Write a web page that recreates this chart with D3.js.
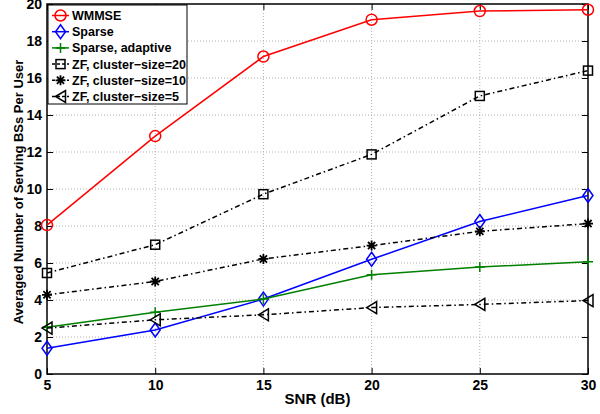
<!DOCTYPE html>
<html><head><meta charset="utf-8">
<script src="https://cdn.jsdelivr.net/npm/d3@7"></script>
<style>body{margin:0;background:#fff;} svg{display:block;font-family:"Liberation Sans",Arial,Helvetica,sans-serif;font-weight:bold;}</style>
</head><body><svg id="c" width="600" height="414"></svg>
<script>
const snr = [5, 10, 15, 20, 25, 30];
const xTicks = [5, 10, 15, 20, 25, 30];
const yTicks = [0, 2, 4, 6, 8, 10, 12, 14, 16, 18, 20];
const wmmse = [8.05, 12.86, 17.16, 19.15, 19.62, 19.69];
const sparse = [1.39, 2.38, 4.05, 6.2, 8.24, 9.65];
const sparseAdaptive = [2.53, 3.34, 4.05, 5.37, 5.78, 6.07];
const zf20 = [5.46, 6.99, 9.72, 11.87, 15.03, 16.4];
const zf10 = [4.28, 5.0, 6.22, 6.94, 7.71, 8.13];
const zf5 = [2.48, 2.93, 3.2, 3.59, 3.76, 3.97];
const seriesNames = ["WMMSE", "Sparse", "Sparse, adaptive", "ZF, cluster\u2212size=20", "ZF, cluster\u2212size=10", "ZF, cluster\u2212size=5"];

const series = [
  {name: seriesNames[0], vals: wmmse, color: "#ff0000", dash: null, marker: "circle"},
  {name: seriesNames[1], vals: sparse, color: "#0000ff", dash: null, marker: "diamond"},
  {name: seriesNames[2], vals: sparseAdaptive, color: "#008000", dash: null, marker: "plus"},
  {name: seriesNames[3], vals: zf20, color: "#000000", dash: "5,3,1.5,3", marker: "square"},
  {name: seriesNames[4], vals: zf10, color: "#000000", dash: "5,3,1.5,3", marker: "star"},
  {name: seriesNames[5], vals: zf5, color: "#000000", dash: "5,3,1.5,3", marker: "triLeft"}
];

const L = 47, R = 588, T = 4, B = 374;
const svg = d3.select("#c");
const x = d3.scaleLinear().domain([5, 30]).range([L, R]);
const y = d3.scaleLinear().domain([0, 20]).range([B, T]);

// grid
const g = svg.append("g");
g.selectAll(".gx").data(xTicks.slice(1, -1)).join("line")
  .attr("x1", d => x(d)).attr("x2", d => x(d)).attr("y1", T).attr("y2", B)
  .attr("stroke", "#b0b0b0").attr("stroke-width", 1).attr("stroke-dasharray", "1,2");
g.selectAll(".gy").data(yTicks.slice(1, -1)).join("line")
  .attr("y1", d => y(d)).attr("y2", d => y(d)).attr("x1", L).attr("x2", R)
  .attr("stroke", "#b0b0b0").attr("stroke-width", 1).attr("stroke-dasharray", "1,2");

// axes
const xAxis = d3.axisBottom(x).tickValues(xTicks).tickSize(-6).tickPadding(6).tickFormat(d3.format("d"));
const yAxis = d3.axisLeft(y).tickValues(yTicks).tickSize(-6).tickPadding(5).tickFormat(d3.format("d"));
const xa = svg.append("g").attr("transform", `translate(0,${B})`).call(xAxis);
const ya = svg.append("g").attr("transform", `translate(${L},0)`).call(yAxis);
const xt = svg.append("g").attr("transform", `translate(0,${T})`).call(d3.axisTop(x).tickValues(xTicks).tickSize(-6).tickFormat(""));
const yr = svg.append("g").attr("transform", `translate(${R},0)`).call(d3.axisRight(y).tickValues(yTicks).tickSize(-6).tickFormat(""));
[xa, ya, xt, yr].forEach(a => {
  a.select(".domain").remove();
  a.selectAll(".tick line").attr("stroke", "#000").attr("stroke-width", 1);
  a.selectAll("text").attr("font-size", 14).attr("font-weight", "bold").attr("fill", "#000")
    .attr("font-family", "'Liberation Sans',Arial,sans-serif");
});
svg.append("rect").attr("x", L).attr("y", T).attr("width", R - L).attr("height", B - T)
  .attr("fill", "none").attr("stroke", "#000").attr("stroke-width", 1.5);

// labels
svg.append("text").attr("x", (L + R) / 2).attr("y", 404).attr("text-anchor", "middle")
  .attr("font-size", 15).text("SNR (dB)");
svg.append("text").attr("transform", `translate(23,192) rotate(-90)`).attr("text-anchor", "middle")
  .attr("font-size", 13).text("Averaged Number of Serving BSs Per User");

function drawMarker(sel, type, color, cx, cy) {
  const m = sel.append("g").attr("transform", `translate(${cx},${cy})`)
    .attr("fill", "none").attr("stroke", color).attr("stroke-width", 1.5);
  if (type === "circle") m.append("circle").attr("r", 5.5);
  else if (type === "diamond") m.append("path").attr("d", "M0,-7L5,0L0,7L-5,0Z");
  else if (type === "plus") m.append("path").attr("d", "M-5,0H5M0,-5V5");
  else if (type === "square") m.append("rect").attr("x", -4.5).attr("y", -4.5).attr("width", 9).attr("height", 9);
  else if (type === "star") m.append("path").attr("d", "M-5,0H5M0,-5V5M-3.6,-3.6L3.6,3.6M-3.6,3.6L3.6,-3.6").attr("stroke-width", 1.8);
  else if (type === "triLeft") m.append("path").attr("d", "M-5,0L5,-6L5,6Z");
}

const line = d3.line().x(d => x(d[0])).y(d => y(d[1]));
series.forEach(s => {
  const pts = snr.map((v, i) => [v, s.vals[i]]);
  svg.append("path").datum(pts).attr("d", line).attr("fill", "none")
    .attr("stroke", s.color).attr("stroke-width", 1.5)
    .attr("stroke-dasharray", s.dash);
  const mg = svg.append("g");
  pts.forEach(p => drawMarker(mg, s.marker, s.color, x(p[0]), y(p[1])));
});

// legend
const lg = svg.append("g");
lg.append("rect").attr("x", 48).attr("y", 5).attr("width", 139).attr("height", 99)
  .attr("fill", "#fff").attr("stroke", "#000").attr("stroke-width", 1);
series.forEach((s, i) => {
  const cy = 15.5 + i * 16.2;
  lg.append("line").attr("x1", 52).attr("x2", 69).attr("y1", cy).attr("y2", cy)
    .attr("stroke", s.color).attr("stroke-width", 1.5).attr("stroke-dasharray", s.dash ? "3,2" : null);
  drawMarker(lg, s.marker, s.color, 60.5, cy);
  lg.append("text").attr("x", 72).attr("y", cy + 4.5).attr("font-size", 12.5).attr("fill", "#000").text(s.name);
});
</script></body></html>
